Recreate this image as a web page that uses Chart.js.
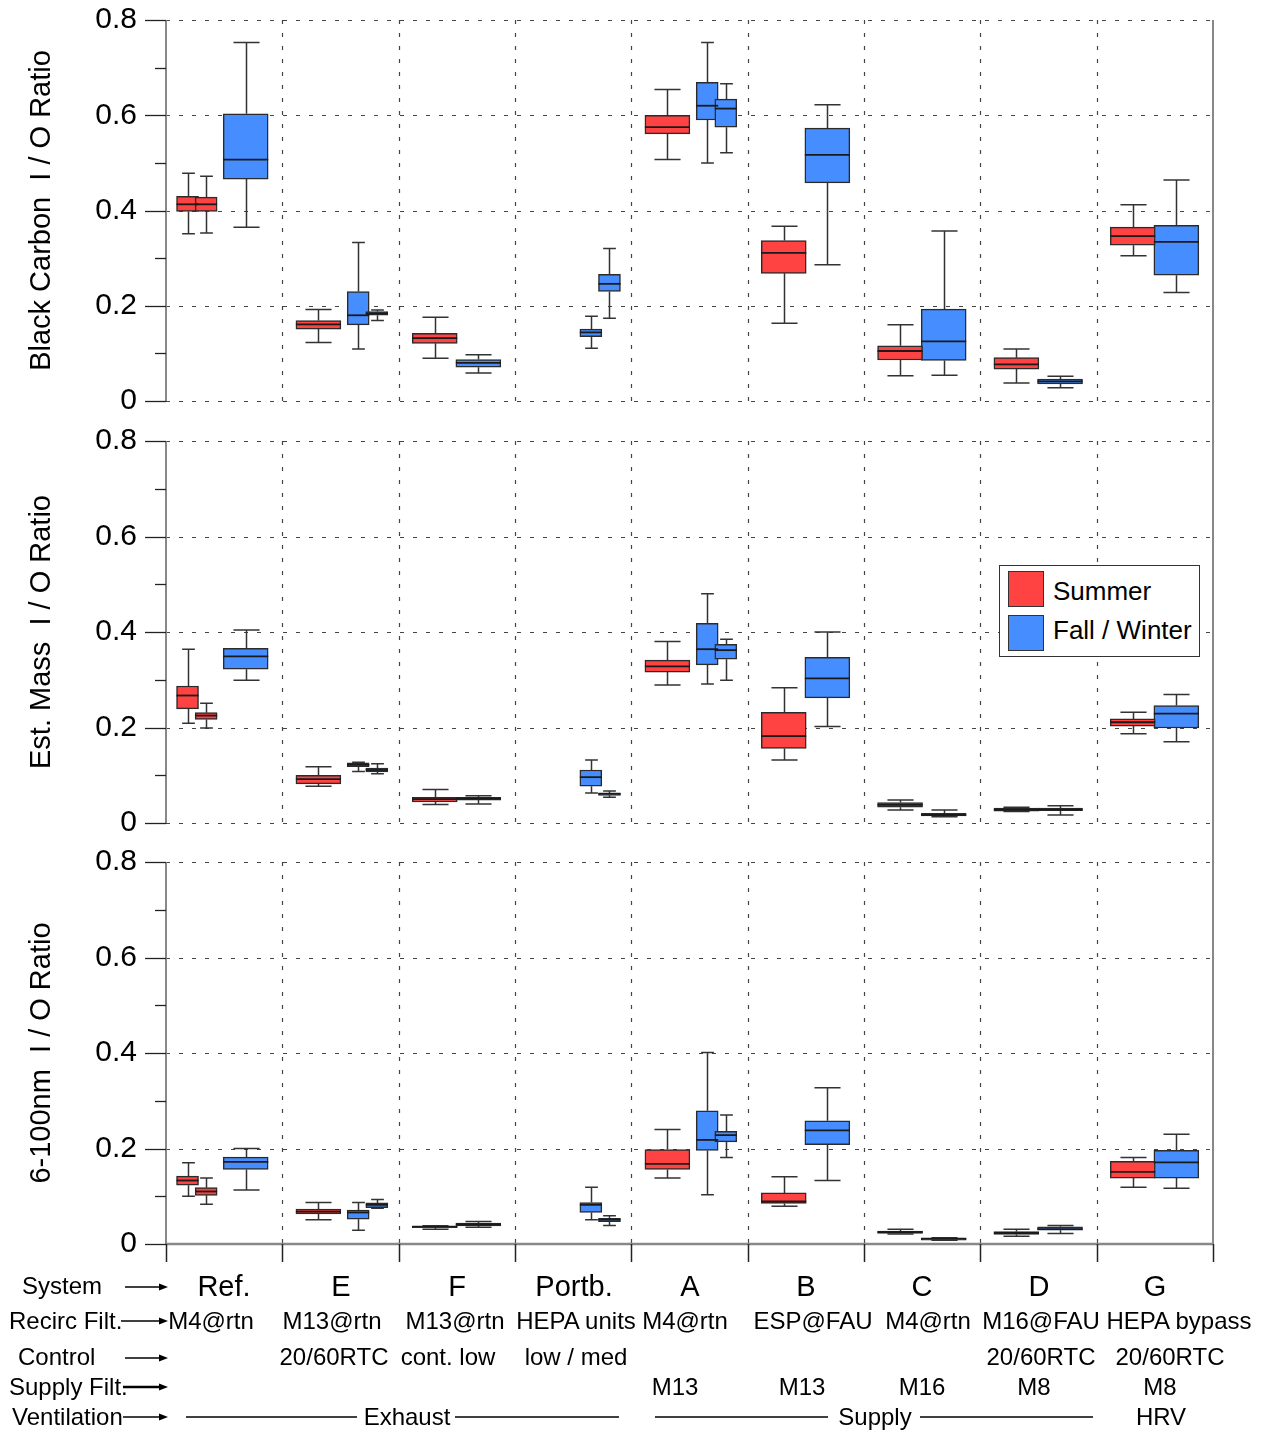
<!DOCTYPE html>
<html>
<head>
<meta charset="utf-8">
<title>Indoor / outdoor ratios by system</title>
<script src="https://cdn.jsdelivr.net/npm/chart.js@4/dist/chart.umd.min.js"></script>
<style>
  html, body { margin: 0; padding: 0; background: #fff; }
  #page { position: relative; width: 1269px; height: 1431px; overflow: hidden;
          font-family: "Liberation Sans", Arial, sans-serif; color: #000; }
  .panel { position: absolute; left: 0; width: 1269px; }
  .t { position: absolute; white-space: nowrap; line-height: 1; transform: translate(-50%, -50%); }
  .l { position: absolute; white-space: nowrap; line-height: 1; transform: translateY(-50%); }
  #legend { position: absolute; left: 999px; top: 565px; width: 199px; height: 90px;
            border: 1.5px solid #333; background: #fff; }
  .sw { position: absolute; left: 8px; width: 36px; height: 36px; border: 1px solid #333; box-sizing: border-box; }
  .lt { position: absolute; left: 53px; font-size: 26px; line-height: 1; transform: translateY(-50%); white-space: nowrap; }
</style>
</head>
<body>
<div id="page">
  <div class="panel" style="top:0;height:421px"><canvas id="c0"></canvas></div>
  <div class="panel" style="top:421px;height:421px"><canvas id="c1"></canvas></div>
  <div class="panel" style="top:842px;height:420px"><canvas id="c2"></canvas></div>
  <div id="legend">
    <div class="sw" style="top:5px;background:rgb(255,66,66)"></div>
    <div class="lt" style="top:25px">Summer</div>
    <div class="sw" style="top:49px;background:rgb(70,142,255)"></div>
    <div class="lt" style="top:64px">Fall / Winter</div>
  </div>
  <svg id="rows" width="1269" height="1431" style="position:absolute;left:0;top:0;pointer-events:none"></svg>
</div>

<script>
// ---- data: box statistics [min, q1, median, q3, max] per system ----
const categories = ['Ref.', 'E', 'F', 'Portb.', 'A', 'B', 'C', 'D', 'G'];
const recircFilters = ['M4@rtn', 'M13@rtn', 'M13@rtn', 'HEPA units', 'M4@rtn', 'ESP@FAU', 'M4@rtn', 'M16@FAU', 'HEPA bypass'];
const controls = ['', '20/60RTC', 'cont. low', 'low / med', '', '', '', '20/60RTC', '20/60RTC'];
const supplyFilters = ['', '', '', '', 'M13', 'M13', 'M16', 'M8', 'M8'];
const ventilation = ['Exhaust', 'Supply', 'HRV'];
const yTicks = [0, 0.2, 0.4, 0.6, 0.8];
const seriesNames = ['Summer', 'Fall / Winter'];

// Black carbon
const bcSummer = [
  [0.351, 0.398, 0.413, 0.430, 0.478],
  [0.123, 0.151, 0.161, 0.169, 0.192],
  [0.090, 0.121, 0.132, 0.142, 0.176],
  null,
  [0.507, 0.561, 0.575, 0.600, 0.654],
  [0.163, 0.268, 0.311, 0.337, 0.367],
  [0.053, 0.086, 0.105, 0.116, 0.160],
  [0.038, 0.067, 0.077, 0.091, 0.109],
  [0.305, 0.327, 0.346, 0.365, 0.412]
];
const bcSummer2 = [[0.353, 0.398, 0.413, 0.428, 0.472], null, null, null, null, null, null, null, null];
const bcWinter = [
  [0.365, 0.466, 0.507, 0.603, 0.753],
  [0.109, 0.160, 0.180, 0.230, 0.333],
  [0.059, 0.071, 0.080, 0.087, 0.097],
  [0.111, 0.135, 0.144, 0.151, 0.178],
  [0.500, 0.590, 0.620, 0.669, 0.753],
  [0.286, 0.458, 0.517, 0.573, 0.622],
  [0.054, 0.085, 0.125, 0.193, 0.357],
  [0.028, 0.036, 0.041, 0.046, 0.052],
  [0.228, 0.264, 0.334, 0.369, 0.464]
];
const bcWinter2 = [null, [0.169, 0.180, 0.184, 0.188, 0.191], null, [0.174, 0.230, 0.246, 0.266, 0.320],
  [0.521, 0.575, 0.614, 0.634, 0.666], null, null, null, null];

// Estimated mass
const massSummer = [
  [0.209, 0.239, 0.267, 0.287, 0.364],
  [0.077, 0.082, 0.092, 0.100, 0.118],
  [0.039, 0.044, 0.050, 0.054, 0.070],
  null,
  [0.289, 0.316, 0.328, 0.341, 0.380],
  [0.132, 0.156, 0.182, 0.232, 0.283],
  [0.027, 0.033, 0.038, 0.043, 0.048],
  [0.024, 0.025, 0.028, 0.031, 0.033],
  [0.187, 0.203, 0.211, 0.218, 0.232]
];
const massSummer2 = [[0.199, 0.217, 0.225, 0.231, 0.251], null, null, null, null, null, null, null, null];
const massWinter = [
  [0.299, 0.322, 0.349, 0.366, 0.404],
  [0.108, 0.118, 0.122, 0.126, 0.127],
  [0.040, 0.048, 0.051, 0.054, 0.057],
  [0.063, 0.077, 0.096, 0.111, 0.132],
  [0.291, 0.331, 0.364, 0.418, 0.480],
  [0.202, 0.262, 0.303, 0.347, 0.400],
  [0.013, 0.015, 0.017, 0.020, 0.027],
  [0.017, 0.026, 0.028, 0.031, 0.036],
  [0.170, 0.199, 0.229, 0.246, 0.269]
];
const massWinter2 = [null, [0.103, 0.107, 0.111, 0.115, 0.124], null, [0.054, 0.058, 0.061, 0.063, 0.067],
  [0.299, 0.343, 0.362, 0.374, 0.385], null, null, null, null];

// 6-100 nm particles
const ufpSummer = [
  [0.100, 0.123, 0.133, 0.142, 0.170],
  [0.051, 0.063, 0.068, 0.073, 0.087],
  [0.031, 0.034, 0.036, 0.038, 0.038],
  null,
  [0.138, 0.156, 0.168, 0.198, 0.240],
  [0.079, 0.085, 0.089, 0.107, 0.141],
  [0.021, 0.022, 0.025, 0.027, 0.031],
  [0.016, 0.020, 0.023, 0.026, 0.031],
  [0.119, 0.138, 0.151, 0.173, 0.181]
];
const ufpSummer2 = [[0.083, 0.102, 0.110, 0.118, 0.138], null, null, null, null, null, null, null, null];
const ufpWinter = [
  [0.113, 0.156, 0.172, 0.182, 0.200],
  [0.029, 0.052, 0.066, 0.071, 0.087],
  [0.035, 0.038, 0.041, 0.044, 0.047],
  [0.051, 0.066, 0.082, 0.087, 0.119],
  [0.103, 0.196, 0.218, 0.279, 0.401],
  [0.133, 0.208, 0.238, 0.258, 0.327],
  [0.008, 0.008, 0.011, 0.012, 0.013],
  [0.022, 0.029, 0.031, 0.036, 0.039],
  [0.117, 0.138, 0.171, 0.196, 0.230]
];
const ufpWinter2 = [null, [0.075, 0.076, 0.082, 0.086, 0.093], null, [0.039, 0.047, 0.051, 0.054, 0.059],
  [0.181, 0.214, 0.228, 0.236, 0.270], null, null, null, null];

// ---- styling / layout ----
const RED = 'rgb(255,66,66)';
const BLUE = 'rgb(70,142,255)';
const FONT = '"Liberation Sans", Arial, sans-serif';
Chart.defaults.font.family = FONT;
Chart.defaults.color = '#000';

// slot offsets inside one system column (column width = 1 on the x scale)
const SLOT = {
  summerWide: 0.31, winterWide: 0.685,
  summerPair: [0.185, 0.345], winterPair: [0.652, 0.812]
};
const WIDE_PX = 45, NARROW_PX = 22;

function buildSeries(primary, secondary, wideOff, pairOffs) {
  const wide = [], narrow = [];
  primary.forEach((s, i) => {
    if (!s) return;
    const s2 = secondary[i];
    if (s2) {
      narrow.push({ x: i + pairOffs[0], y: [s[1], s[3]], stats: s });
      narrow.push({ x: i + pairOffs[1], y: [s2[1], s2[3]], stats: s2 });
    } else {
      wide.push({ x: i + wideOff, y: [s[1], s[3]], stats: s });
    }
  });
  return { wide, narrow };
}

const boxPlugin = {
  id: 'boxFrame',
  beforeDatasetsDraw(chart, args, opts) {
    const { ctx, chartArea: a, scales: { x, y } } = chart;
    const H = chart.height;
    ctx.save();
    // dashed grid
    ctx.setLineDash([4, 9]);
    ctx.lineWidth = 1.2;
    ctx.strokeStyle = '#444';
    yTicks.forEach(v => {
      if (v === 0 && opts.baseAxis) return;
      const py = Math.round(y.getPixelForValue(v)) + 0.5;
      ctx.beginPath(); ctx.moveTo(a.left, py); ctx.lineTo(a.right, py); ctx.stroke();
    });
    for (let i = 1; i < categories.length; i++) {
      const px = Math.round(x.getPixelForValue(i)) + 0.5;
      ctx.beginPath(); ctx.moveTo(px, a.top); ctx.lineTo(px, a.bottom); ctx.stroke();
    }
    ctx.setLineDash([]);
    // left axis line and ticks
    ctx.strokeStyle = '#888';
    ctx.lineWidth = 2;
    ctx.beginPath(); ctx.moveTo(a.left, a.top); ctx.lineTo(a.left, a.bottom); ctx.stroke();
    // right frame, continuous between panels
    const rTop = opts.first ? a.top : 0;
    const rBot = opts.baseAxis ? a.bottom : H;
    ctx.beginPath(); ctx.moveTo(a.right, rTop); ctx.lineTo(a.right, rBot); ctx.stroke();
    ctx.strokeStyle = '#222';
    ctx.lineWidth = 1.3;
    for (let v = 0; v <= 0.8001; v += 0.1) {
      const major = Math.abs(v / 0.2 - Math.round(v / 0.2)) < 1e-6;
      const py = Math.round(y.getPixelForValue(v)) + 0.5;
      ctx.beginPath(); ctx.moveTo(a.left - (major ? 21 : 11), py); ctx.lineTo(a.left, py); ctx.stroke();
    }
    if (opts.baseAxis) {
      ctx.strokeStyle = '#888';
      ctx.lineWidth = 2.5;
      ctx.beginPath(); ctx.moveTo(a.left, a.bottom); ctx.lineTo(a.right, a.bottom); ctx.stroke();
      ctx.strokeStyle = '#222';
      ctx.lineWidth = 1.5;
      for (let i = 0; i <= categories.length; i++) {
        const px = Math.round(x.getPixelForValue(i)) + 0.5;
        ctx.beginPath(); ctx.moveTo(px, a.bottom); ctx.lineTo(px, a.bottom + 18); ctx.stroke();
      }
    }
    // whiskers behind the boxes
    ctx.strokeStyle = '#333';
    ctx.lineWidth = 1.5;
    chart.data.datasets.forEach((ds, di) => {
      const meta = chart.getDatasetMeta(di);
      meta.data.forEach((el, i) => {
        const s = ds.data[i].stats;
        const cx = Math.round(el.x) + 0.5;
        const cap = el.width * 0.58;
        const pMin = y.getPixelForValue(s[0]), pQ1 = y.getPixelForValue(s[1]);
        const pQ3 = y.getPixelForValue(s[3]), pMax = y.getPixelForValue(s[4]);
        ctx.beginPath();
        ctx.moveTo(cx, pMax); ctx.lineTo(cx, pQ3);
        ctx.moveTo(cx, pQ1); ctx.lineTo(cx, pMin);
        ctx.moveTo(cx - cap / 2, pMax); ctx.lineTo(cx + cap / 2, pMax);
        ctx.moveTo(cx - cap / 2, pMin); ctx.lineTo(cx + cap / 2, pMin);
        ctx.stroke();
      });
    });
    ctx.restore();
  },
  afterDatasetsDraw(chart) {
    const { ctx, scales: { y } } = chart;
    ctx.save();
    ctx.strokeStyle = '#1a1a1a';
    ctx.lineWidth = 1.8;
    chart.data.datasets.forEach((ds, di) => {
      const meta = chart.getDatasetMeta(di);
      meta.data.forEach((el, i) => {
        const s = ds.data[i].stats;
        const py = y.getPixelForValue(s[2]);
        ctx.beginPath(); ctx.moveTo(el.x - el.width / 2, py); ctx.lineTo(el.x + el.width / 2, py); ctx.stroke();
      });
    });
    ctx.restore();
  }
};

function makePanel(canvasId, title, summer, summer2, winter, winter2, padBottom, flags) {
  const sm = buildSeries(summer, summer2, SLOT.summerWide, SLOT.summerPair);
  const wn = buildSeries(winter, winter2, SLOT.winterWide, SLOT.winterPair);
  const common = { stack: 'box', borderColor: '#2b2b2b', borderWidth: 1.5, borderSkipped: false };
  return new Chart(document.getElementById(canvasId), {
    type: 'bar',
    data: {
      datasets: [
        Object.assign({ label: seriesNames[0], data: sm.wide, backgroundColor: RED, barThickness: WIDE_PX }, common),
        Object.assign({ label: seriesNames[0], data: sm.narrow, backgroundColor: RED, barThickness: NARROW_PX }, common),
        Object.assign({ label: seriesNames[1], data: wn.wide, backgroundColor: BLUE, barThickness: WIDE_PX }, common),
        Object.assign({ label: seriesNames[1], data: wn.narrow, backgroundColor: BLUE, barThickness: NARROW_PX }, common)
      ]
    },
    options: {
      responsive: true,
      maintainAspectRatio: false,
      animation: false,
      events: [],
      layout: { padding: { left: 0, right: 56, top: 20, bottom: padBottom } },
      plugins: { legend: { display: false }, tooltip: { enabled: false }, boxFrame: flags },
      scales: {
        x: { type: 'linear', min: 0, max: categories.length, offset: false, display: false,
             grid: { display: false, offset: false } },
        y: {
          type: 'linear', min: 0, max: 0.8, stacked: false,
          afterFit(scale) { scale.width = 166; },
          afterBuildTicks(scale) { scale.ticks = yTicks.map(v => ({ value: v })); },
          // tick marks are drawn by the frame plugin; the reserved length keeps labels clear of them
          grid: { display: false, drawTicks: true, tickLength: 29 },
          border: { display: false },
          ticks: {
            padding: 0,
            font: { size: 30 },
            color: '#000',
            callback: v => (v === 0 ? '0' : v.toFixed(1))
          },
          title: { display: true, text: title, font: { size: 29 }, color: '#000', padding: { top: 25, bottom: 0 } }
        }
      }
    },
    plugins: [boxPlugin]
  });
}

makePanel('c0', 'Black Carbon  I / O Ratio', bcSummer, bcSummer2, bcWinter, bcWinter2, 20, { first: true, baseAxis: false });
makePanel('c1', 'Est. Mass  I / O Ratio', massSummer, massSummer2, massWinter, massWinter2, 19, { first: false, baseAxis: false });
makePanel('c2', '6-100nm  I / O Ratio', ufpSummer, ufpSummer2, ufpWinter, ufpWinter2, 18, { first: false, baseAxis: true });

// ---- descriptor rows under the plots ----
const page = document.getElementById('page');
function addText(cls, txt, x, y, size) {
  const d = document.createElement('div');
  d.className = cls;
  d.textContent = txt;
  d.style.left = x + 'px';
  d.style.top = y + 'px';
  d.style.fontSize = size + 'px';
  page.appendChild(d);
}
const rowY = { system: 1286, recirc: 1321, control: 1357, supply: 1387, vent: 1417 };
const colX = {
  system: [224, 341, 457, 574, 690, 806, 922, 1039, 1155],
  recirc: [211, 332, 455, 576, 685, 813, 928, 1041, 1179],
  control: [224, 334, 448, 576, 690, 806, 922, 1041, 1170],
  supply: [224, 341, 457, 574, 675, 802, 922, 1034, 1160]
};
addText('l', 'System', 22, rowY.system, 24);
addText('l', 'Recirc Filt.', 9, rowY.recirc, 24);
addText('l', 'Control', 18, rowY.control, 24);
addText('l', 'Supply Filt.', 9, rowY.supply, 24);
addText('l', 'Ventilation', 12, rowY.vent, 24);
categories.forEach((c, i) => addText('t', c, colX.system[i], rowY.system, 29));
recircFilters.forEach((c, i) => c && addText('t', c, colX.recirc[i], rowY.recirc, 24));
controls.forEach((c, i) => c && addText('t', c, colX.control[i], rowY.control, 24));
supplyFilters.forEach((c, i) => c && addText('t', c, colX.supply[i], rowY.supply, 24));
addText('t', ventilation[0], 407, rowY.vent, 24);
addText('t', ventilation[1], 875, rowY.vent, 24);
addText('t', ventilation[2], 1161, rowY.vent, 24);

const svg = document.getElementById('rows');
const NS = 'http://www.w3.org/2000/svg';
function svgLine(x1, y1, x2, y2, w) {
  const l = document.createElementNS(NS, 'line');
  l.setAttribute('x1', x1); l.setAttribute('y1', y1); l.setAttribute('x2', x2); l.setAttribute('y2', y2);
  l.setAttribute('stroke', '#000'); l.setAttribute('stroke-width', w);
  svg.appendChild(l);
}
function arrow(x1, x2, y, w) {
  svgLine(x1, y, x2 - 6, y, w);
  const p = document.createElementNS(NS, 'polygon');
  p.setAttribute('points', `${x2},${y} ${x2 - 9},${y - 3.5} ${x2 - 9},${y + 3.5}`);
  p.setAttribute('fill', '#000');
  svg.appendChild(p);
}
arrow(125, 168, rowY.system + 1, 1.5);
arrow(121, 168, rowY.recirc, 1.5);
arrow(125, 168, rowY.control + 1, 1.5);
arrow(123, 168, rowY.supply, 2.5);
arrow(123, 168, rowY.vent, 1.5);
svgLine(186, rowY.vent, 357, rowY.vent, 1.5);
svgLine(455, rowY.vent, 619, rowY.vent, 1.5);
svgLine(655, rowY.vent, 828, rowY.vent, 1.5);
svgLine(920, rowY.vent, 1093, rowY.vent, 1.5);
</script>
</body>
</html>
